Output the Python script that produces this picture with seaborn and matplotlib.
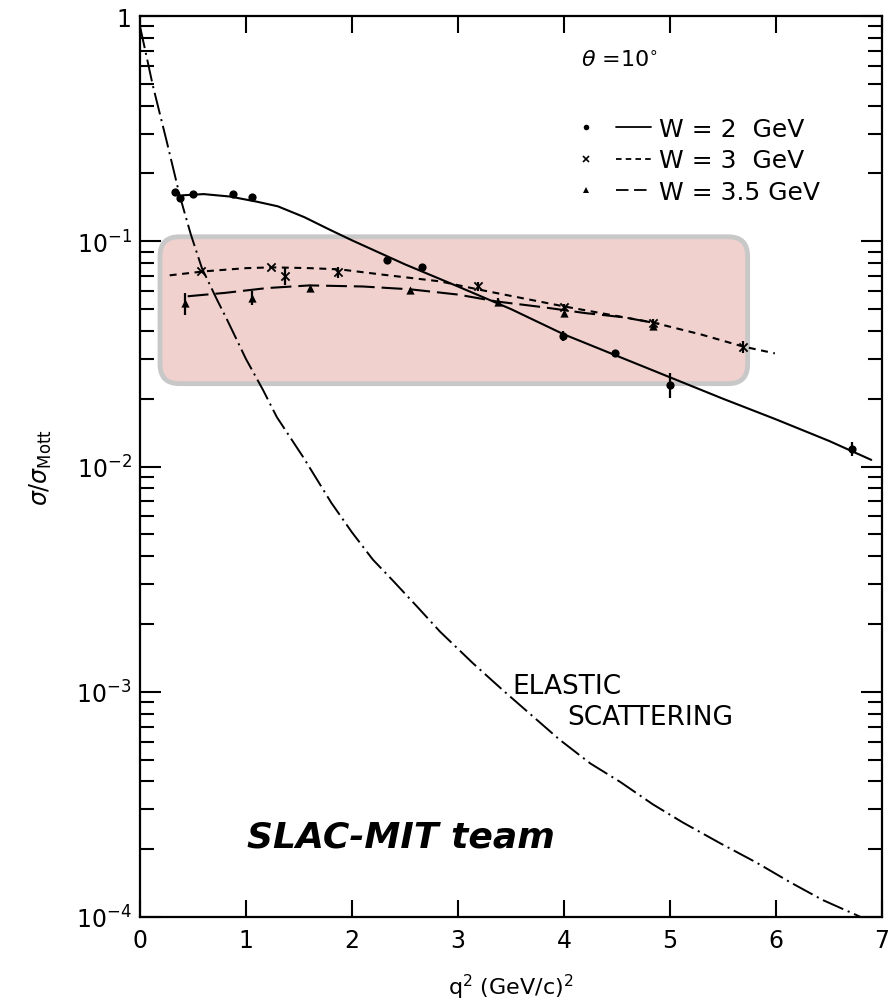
import warnings
warnings.filterwarnings('ignore')

import matplotlib
matplotlib.use('Agg')
import matplotlib.pyplot as plt
import pandas as pd
import seaborn as sns
from matplotlib.patches import FancyBboxPatch
from matplotlib.lines import Line2D
from matplotlib.legend_handler import HandlerTuple
from matplotlib.ticker import LogLocator, NullFormatter

sns.set_style('ticks')
plt.rcParams['font.family'] = ['DejaVu Sans']
plt.rcParams['mathtext.fontset'] = 'dejavusans'
plt.rcParams['lines.scale_dashes'] = False
plt.rcParams['text.color'] = 'black'
plt.rcParams['axes.labelcolor'] = 'black'

# ---- data ----
# W = 2 GeV  (fit curve + measured points)
w2_fit_x = [0.4, 0.6, 0.85, 1.1, 1.3, 1.55, 1.8, 2.0, 2.5, 3.0, 3.5, 4.0, 4.5, 5.0, 5.5, 6.0, 6.5, 6.9]
w2_fit_y = [0.160, 0.162, 0.158, 0.150, 0.143, 0.128, 0.112, 0.101, 0.079, 0.063, 0.050, 0.0386,
            0.031, 0.0249, 0.020, 0.0162, 0.013, 0.0107]
w2_x = [0.33, 0.38, 0.5, 0.88, 1.06, 2.33, 2.66, 3.99, 4.48, 5.0, 6.72]
w2_y = [0.165, 0.155, 0.163, 0.162, 0.158, 0.083, 0.077, 0.038, 0.0318, 0.0231, 0.012]
w2_err = [0, 0, 0, 0, 0, 0, 0, 0.002, 0, 0.003, 0.0009]

# W = 3 GeV
w3_fit_x = [0.28, 0.6, 1.0, 1.25, 1.6, 1.89, 2.3, 2.83, 3.2, 3.6, 4.0, 4.4, 4.84, 5.3, 5.69, 5.99]
w3_fit_y = [0.0706, 0.0735, 0.076, 0.0766, 0.076, 0.075, 0.071, 0.0664, 0.061, 0.056, 0.0514,
            0.0475, 0.0436, 0.0385, 0.0341, 0.0318]
w3_x = [0.58, 1.24, 1.37, 1.87, 3.19, 4.0, 4.84, 5.69]
w3_y = [0.0735, 0.0766, 0.070, 0.073, 0.063, 0.0509, 0.0433, 0.034]
w3_err = [0, 0, 0.006, 0.004, 0.003, 0.002, 0.002, 0.002]

# W = 3.5 GeV
w35_fit_x = [0.45, 0.8, 1.2, 1.6, 2.1, 2.55, 3.0, 3.37, 3.8, 4.2, 4.56, 4.9]
w35_fit_y = [0.057, 0.059, 0.062, 0.0637, 0.063, 0.0612, 0.058, 0.054, 0.051, 0.048, 0.046, 0.043]
w35_x = [0.42, 1.06, 1.6, 2.55, 3.38, 4.0, 4.84]
w35_y = [0.053, 0.056, 0.062, 0.0605, 0.054, 0.048, 0.042]
w35_err = [0.006, 0.004, 0, 0, 0.002, 0, 0]

# elastic scattering curve
el_x = [0.0, 0.122, 0.254, 0.377, 0.48, 0.584, 0.725, 0.82, 1.0, 1.16, 1.29, 1.54, 1.805, 2.0,
        2.197, 2.39, 2.61, 2.83, 3.14, 3.44, 3.96, 4.25, 4.53, 4.84, 5.12, 5.47, 5.82, 6.13,
        6.44, 6.8]
el_y = [0.9, 0.489, 0.275, 0.158, 0.107, 0.076, 0.0552, 0.045, 0.030, 0.0219, 0.0166, 0.011,
        0.0069, 0.0051, 0.00386, 0.0031, 0.0024, 0.00185, 0.00134, 0.001, 0.000612, 0.00048,
        0.000398, 0.000316, 0.000263, 0.000213, 0.000174, 0.000143, 0.000119, 0.0001]

series = [
    ('W = 2  GeV', w2_fit_x, w2_fit_y, w2_x, w2_y, w2_err, 'o', 5, None),
    ('W = 3  GeV', w3_fit_x, w3_fit_y, w3_x, w3_y, w3_err, 'x', 5, (5, 4)),
    ('W = 3.5 GeV', w35_fit_x, w35_fit_y, w35_x, w35_y, w35_err, '^', 5, (15, 5)),
]

fig = plt.figure(figsize=(8.89, 10.04), dpi=100)
ax = fig.add_axes([0.1575, 0.0857, 0.8345, 0.8973])

# highlight box
aw, ah = 742, 901
box = FancyBboxPatch((0.027, 0.592), 0.792, 0.163, transform=ax.transAxes,
                     boxstyle='round,pad=0,rounding_size=0.026', mutation_aspect=aw / ah,
                     fc='#f0d1cd', ec='#c8c8c8', lw=3.5, zorder=0.5)
ax.add_patch(box)

handles = []
for name, fx, fy, px, py, pe, mk, ms, dash in series:
    sns.lineplot(x=fx, y=fy, ax=ax, color='black', lw=1.5, sort=False, zorder=3)
    ln = ax.lines[-1]
    if dash is not None:
        ln.set_dashes(dash)
    pts = pd.DataFrame({'x': px, 'y': py})
    sns.scatterplot(data=pts, x='x', y='y', ax=ax, marker=mk, color='black',
                    s=ms * 7, linewidth=1.3 if mk == 'x' else 0, zorder=4)
    ax.errorbar(px, py, yerr=pe, fmt='none', ecolor='black', elinewidth=1.6, zorder=4)
    h_mk = Line2D([], [], marker=mk, color='black', ls='none', ms=4, mew=1.2 if mk == 'x' else 0)
    h_ln = Line2D([], [], color='black', lw=1.3)
    if dash is not None:
        h_ln.set_dashes((4, 3) if dash == (5, 4) else (9, 4))
    handles.append((h_mk, h_ln))

sns.lineplot(x=el_x, y=el_y, ax=ax, color='black', lw=1.4, sort=False, zorder=3)
ax.lines[-1].set_dashes((16, 3.5, 1.5, 3.5))

ax.set_yscale('log')
ax.set_xlim(0, 7)
ax.set_ylim(1e-4, 1)

ax.set_xticks(range(8))
ax.set_xticklabels([str(i) for i in range(8)])
ax.set_yticks([1e-4, 1e-3, 1e-2, 1e-1, 1])
ax.set_yticklabels(['$10^{-4}$', '$10^{-3}$', '$10^{-2}$', '$10^{-1}$', '1'])
ax.yaxis.set_minor_locator(LogLocator(base=10, subs=range(2, 10)))
ax.yaxis.set_minor_formatter(NullFormatter())

ax.tick_params(which='both', direction='in', top=True, right=True, width=1.5, colors='black',
               labelsize=17)
ax.tick_params(axis='x', which='major', length=12, pad=8)
ax.tick_params(axis='y', which='major', length=15, pad=6)
ax.tick_params(axis='y', which='minor', length=10)
for sp in ax.spines.values():
    sp.set_linewidth(1.6)
    sp.set_color('black')

ax.set_xlabel('q$^2$ (GeV/c)$^2$', fontsize=16, labelpad=14)
ax.set_ylabel(r'$\sigma/\sigma_{\rm Mott}$', fontsize=17, labelpad=16)

ax.text(0.647, 0.952, r'$\theta$ =10$^{\circ}$', transform=ax.transAxes, fontsize=16,
        ha='center', va='center')
ax.text(3.51, 0.00106, 'ELASTIC', fontsize=19, va='center', ha='left')
ax.text(4.03, 0.00077, 'SCATTERING', fontsize=19, va='center', ha='left')
ax.text(0.144, 0.0777, 'SLAC-MIT team', transform=ax.transAxes, fontsize=26,
        family=['DejaVu Sans'], weight='bold', style='italic', va='baseline', ha='left')

leg = ax.legend(handles, [s[0] for s in series], handler_map={tuple: HandlerTuple(ndivide=None, pad=0.5)},
                loc='upper left', bbox_to_anchor=(0.578, 0.888), frameon=False, fontsize=18,
                handlelength=3.3, handletextpad=0.3, labelspacing=0.3, borderpad=0, borderaxespad=0)

fig.savefig('out.png', dpi=100, facecolor='white')
